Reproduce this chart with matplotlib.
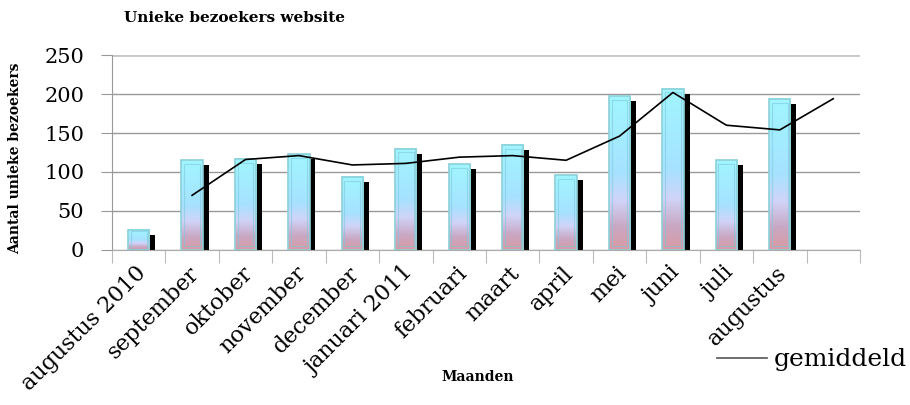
import numpy as np
import matplotlib.pyplot as plt
from matplotlib.colors import LinearSegmentedColormap
from matplotlib.patches import Rectangle

maanden = ['augustus 2010', 'september', 'oktober', 'november', 'december',
           'januari 2011', 'februari', 'maart', 'april', 'mei', 'juni',
           'juli', 'augustus', '']
bezoekers = [26, 115, 117, 123, 94, 130, 110, 135, 96, 197, 207, 115, 194]
gemiddeld = [np.nan, 70, 116, 121, 109, 111, 119, 121, 115, 146, 202, 160, 154, 194]

grad = LinearSegmentedColormap.from_list(
    'bar', [(0.0, '#d99aa2'), (0.15, '#c9a8c4'), (0.32, '#d0d4f8'),
            (0.5, '#a6e2ff'), (1.0, '#a0f6ff')])

serif = 'DejaVu Serif'

fig = plt.figure(figsize=(9.1, 4.05), dpi=100)
ax = fig.add_axes([0.123, 0.383, 0.822, 0.481])

x = np.arange(len(maanden))
w = 0.4
dx = 0.11   # schaduw naar rechts
dy = 6.5    # schaduw lager

# schaduw
ax.bar(x[:len(bezoekers)] + dx, np.array(bezoekers) - dy, width=w, color='black', zorder=2)

# voorkant met verloop
bars = ax.bar(x[:len(bezoekers)], bezoekers, width=w, color='none',
              edgecolor='#8cd0d8', linewidth=1.2, zorder=4)
g = np.linspace(0, 1, 256).reshape(-1, 1)
for b in bars:
    x0, h, bw = b.get_x(), b.get_height(), b.get_width()
    ax.imshow(g, extent=(x0, x0 + bw, 0, h), origin='lower', aspect='auto',
              cmap=grad, zorder=3, interpolation='bicubic')
    ix, iy = bw * 0.13, min(h * 0.06, 5)
    ax.add_patch(Rectangle((x0 + ix, iy), bw - 2 * ix, h - 2 * iy, fill=False,
                           edgecolor='#7fc8dc', linewidth=0.8, alpha=0.6, zorder=4))

ax.plot(x, gemiddeld, color='black', linewidth=1.2, zorder=5, label='gemiddeld')

ax.set_xlim(-0.5, len(maanden) - 0.5)
ax.set_ylim(0, 250)
ax.set_yticks(range(0, 251, 50))
ax.yaxis.grid(True, color='#999999', linewidth=1)
ax.set_axisbelow(True)
for s in ['top', 'right']:
    ax.spines[s].set_visible(False)
ax.spines['left'].set_color('#999999')
ax.spines['bottom'].set_color('#aaaaaa')
ax.tick_params(axis='y', length=8, color='#999999', labelsize=15, pad=12)
ax.set_yticklabels([str(v) for v in range(0, 251, 50)], family=serif)
ax.set_xticks(np.arange(len(maanden) + 1) - 0.5, minor=False)
ax.set_xticklabels([])
ax.tick_params(axis='x', length=9, color='#bbbbbb')
ax.axhline(250, color='#c8c8c8', linewidth=2, zorder=1)

for i, m in enumerate(maanden):
    ax.text(i - 0.07, -16, m, rotation=45, ha='right', va='top',
            rotation_mode='anchor', fontsize=16, family=serif)

fig.text(0.136, 0.955, 'Unieke bezoekers website', fontsize=11,
         family=serif, weight='bold', va='center')
fig.text(0.0165, 0.61, 'Aantal unieke bezoekers', fontsize=10, rotation=90,
         family=serif, weight='bold', ha='center', va='center')
fig.text(0.525, 0.069, 'Maanden', fontsize=10, family=serif,
         weight='bold', ha='center', va='center')

leg = ax.legend(loc='center left', bbox_to_anchor=(0.809, -0.564), frameon=False,
                handlelength=2.0, handletextpad=0.25, borderpad=0, borderaxespad=0,
                prop={'family': serif, 'size': 18})
leg.get_lines()[0].set_color('#555555')

fig.savefig('out.png', dpi=100)
